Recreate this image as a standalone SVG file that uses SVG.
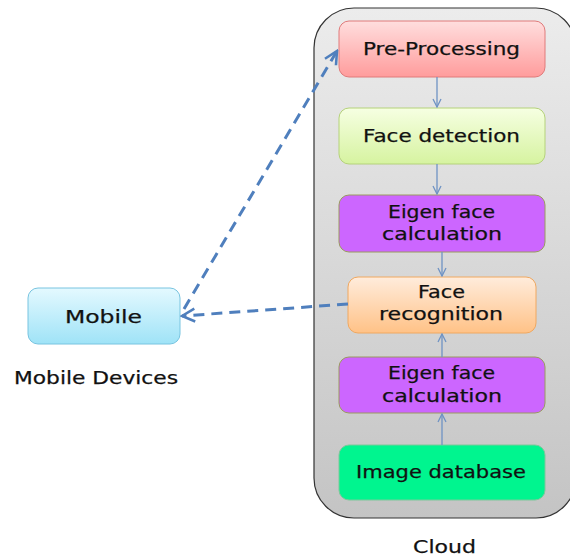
<svg xmlns="http://www.w3.org/2000/svg" width="570" height="558" viewBox="0 0 570 558">
  <style>
    .lbl { font-family: "DejaVu Sans", Verdana, sans-serif; font-size: 17.5px; fill: #111; stroke: #111; stroke-width: 0.25; text-anchor: middle; }
    .flow { stroke: #6f93c4; stroke-width: 1.3; fill: none; }
    .dash { stroke: #4f7fbd; stroke-width: 3; fill: none; stroke-dasharray: 11 7; }
  </style>
  <defs>
    <linearGradient id="gCloud" x1="0" y1="0" x2="0" y2="1">
      <stop offset="0" stop-color="#ececec"/>
      <stop offset="1" stop-color="#c4c4c4"/>
    </linearGradient>
    <linearGradient id="gPink" x1="0" y1="0" x2="0" y2="1">
      <stop offset="0" stop-color="#ffdede"/>
      <stop offset="1" stop-color="#ff9c9c"/>
    </linearGradient>
    <linearGradient id="gLime" x1="0" y1="0" x2="0" y2="1">
      <stop offset="0" stop-color="#f6ffe2"/>
      <stop offset="1" stop-color="#d6f3a0"/>
    </linearGradient>
    <linearGradient id="gOrange" x1="0" y1="0" x2="0" y2="1">
      <stop offset="0" stop-color="#ffecdc"/>
      <stop offset="1" stop-color="#ffc287"/>
    </linearGradient>
    <linearGradient id="gBlue" x1="0" y1="0" x2="0" y2="1">
      <stop offset="0" stop-color="#e4f9ff"/>
      <stop offset="1" stop-color="#9fe3f7"/>
    </linearGradient>
    <marker id="open" viewBox="0 0 10 10" refX="9" refY="5" markerWidth="10" markerHeight="10" markerUnits="userSpaceOnUse" orient="auto">
      <path d="M1,1 L9,5 L1,9" fill="none" stroke="#6f93c4" stroke-width="1.3"/>
    </marker>
    <marker id="openBig" viewBox="0 0 10 10" refX="9" refY="5" markerWidth="16" markerHeight="16" markerUnits="userSpaceOnUse" orient="auto">
      <path d="M1,1 L9,5 L1,9" fill="none" stroke="#4f7fbd" stroke-width="1.6"/>
    </marker>
  </defs>

  <!-- cloud container -->
  <g id="cloud">
    <rect x="314" y="8" width="262" height="510" rx="40" fill="url(#gCloud)" stroke="#333" stroke-width="1.2"/>
    <text class="lbl" x="444.5" y="553" textLength="63" lengthAdjust="spacingAndGlyphs">Cloud</text>
  </g>

  <g id="pre-processing">
    <rect x="339" y="21" width="206" height="56" rx="10" fill="url(#gPink)" stroke="#e07a7a"/>
    <text class="lbl" x="441.5" y="55" textLength="157" lengthAdjust="spacingAndGlyphs">Pre-Processing</text>
  </g>

  <g id="face-detection">
    <rect x="339" y="108" width="206" height="56" rx="10" fill="url(#gLime)" stroke="#b5d27a"/>
    <text class="lbl" x="441.5" y="142" textLength="157" lengthAdjust="spacingAndGlyphs">Face detection</text>
  </g>

  <g id="eigen-1">
    <rect x="339" y="195" width="206" height="57" rx="10" fill="#cc66ff" stroke="#9a9a60"/>
    <text class="lbl" x="441.5" y="218" textLength="107" lengthAdjust="spacingAndGlyphs">Eigen face</text>
    <text class="lbl" x="442" y="240" textLength="120" lengthAdjust="spacingAndGlyphs">calculation</text>
  </g>

  <g id="face-recognition">
    <rect x="348" y="277" width="188" height="56" rx="10" fill="url(#gOrange)" stroke="#f0a860"/>
    <text class="lbl" x="441.5" y="298" textLength="47" lengthAdjust="spacingAndGlyphs">Face</text>
    <text class="lbl" x="441" y="320" textLength="124" lengthAdjust="spacingAndGlyphs">recognition</text>
  </g>

  <g id="eigen-2">
    <rect x="339" y="357" width="206" height="56" rx="10" fill="#cc66ff" stroke="#9a9a60"/>
    <text class="lbl" x="441.5" y="379" textLength="107" lengthAdjust="spacingAndGlyphs">Eigen face</text>
    <text class="lbl" x="442" y="402" textLength="120" lengthAdjust="spacingAndGlyphs">calculation</text>
  </g>

  <g id="image-database">
    <rect x="339" y="445" width="206" height="55" rx="10" fill="#00f58f" stroke="#7bc89a"/>
    <text class="lbl" x="441" y="478" textLength="170" lengthAdjust="spacingAndGlyphs">Image database</text>
  </g>

  <g id="mobile">
    <rect x="28" y="288" width="152" height="56" rx="10" fill="url(#gBlue)" stroke="#78c4e0"/>
    <text class="lbl" x="103.5" y="323" textLength="77" lengthAdjust="spacingAndGlyphs">Mobile</text>
    <text class="lbl" x="96" y="384" textLength="164" lengthAdjust="spacingAndGlyphs">Mobile Devices</text>
  </g>

  <!-- connectors -->
  <g id="connectors">
    <line class="flow" x1="437" y1="77" x2="437" y2="107" marker-end="url(#open)"/>
    <line class="flow" x1="437" y1="164" x2="437" y2="194" marker-end="url(#open)"/>
    <line class="flow" x1="442" y1="252" x2="442" y2="276" marker-end="url(#open)"/>
    <line class="flow" x1="442" y1="357" x2="442" y2="334" marker-end="url(#open)"/>
    <line class="flow" x1="442" y1="445" x2="442" y2="414" marker-end="url(#open)"/>
    <line class="dash" x1="348" y1="304" x2="182" y2="316" marker-end="url(#openBig)"/>
    <line class="dash" x1="184" y1="309" x2="337" y2="51" marker-end="url(#openBig)"/>
  </g>
</svg>
